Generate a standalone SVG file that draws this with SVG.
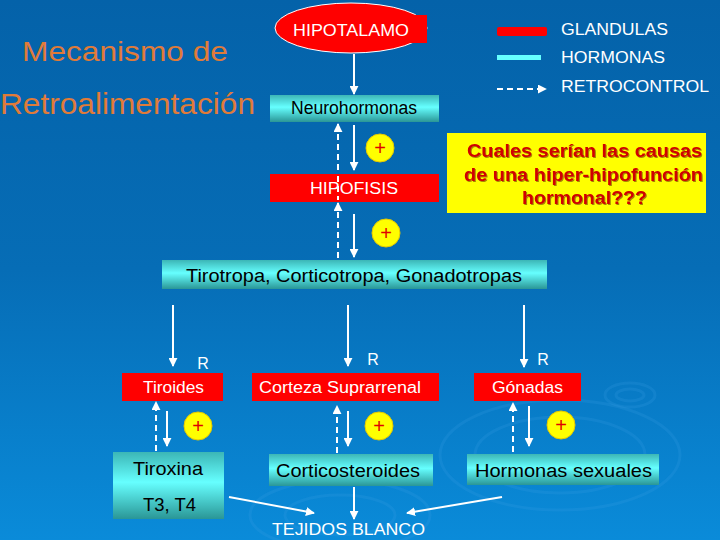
<svg xmlns="http://www.w3.org/2000/svg" width="720" height="540" viewBox="0 0 720 540">
<defs>
<linearGradient id="bg" x1="0" y1="0" x2="0" y2="1">
<stop offset="0" stop-color="#0462a9"/>
<stop offset="0.5" stop-color="#066db6"/>
<stop offset="1" stop-color="#0a8bd9"/>
</linearGradient>
<linearGradient id="cy" x1="0" y1="0" x2="0" y2="1">
<stop offset="0" stop-color="#3cb6b6"/>
<stop offset="0.45" stop-color="#66ffff"/>
<stop offset="1" stop-color="#2a9696"/>
</linearGradient>
<marker id="ah" viewBox="0 0 10 10" refX="9" refY="5" markerWidth="4.5" markerHeight="4.5" orient="auto">
<path d="M0,0 L10,5 L0,10 z" fill="#ffffff"/>
</marker>
<filter id="sh" x="-5%" y="-5%" width="110%" height="120%">
<feDropShadow dx="1" dy="1" stdDeviation="0.4" flood-color="#6a3000" flood-opacity="0.6"/>
</filter>
</defs>
<style>
.lbl{font-family:"Liberation Sans",Arial,sans-serif;}
.w{fill:#ffffff;font-size:16px;}
.k{fill:#000000;font-size:18px;}
.red{fill:#ff0000;}
.cyan{fill:url(#cy);}
.ln{stroke:#ffffff;stroke-width:2;fill:none;marker-end:url(#ah);}
.dash{stroke:#ffffff;stroke-width:2;fill:none;stroke-dasharray:6,4;marker-end:url(#ah);}
.plus circle{fill:#ffff00;stroke:#e6c800;stroke-width:1;}
.plus text{fill:#e00000;font-size:20px;font-family:"Liberation Sans",Arial,sans-serif;text-anchor:middle;}
.rip{fill:none;stroke:#3aa0e8;stroke-opacity:0.2;stroke-width:3;}
</style>
<rect width="720" height="540" fill="url(#bg)"/>
<g id="ripples">
<ellipse class="rip" cx="630" cy="395" rx="25" ry="12"/>
<ellipse class="rip" cx="630" cy="395" rx="14" ry="6"/>
<ellipse class="rip" cx="560" cy="455" rx="120" ry="55"/>
<ellipse class="rip" cx="560" cy="455" rx="85" ry="38"/>
<ellipse class="rip" cx="340" cy="515" rx="90" ry="35"/>
<ellipse class="rip" cx="340" cy="515" rx="55" ry="20"/>
</g>
<g id="title" class="lbl" fill="#e07b39">
<text x="22" y="61" font-size="28" textLength="206" lengthAdjust="spacingAndGlyphs">Mecanismo de</text>
<text x="0" y="114" font-size="30" textLength="255" lengthAdjust="spacingAndGlyphs">Retroalimentación</text>
</g>
<g id="legend" class="lbl">
<rect x="497" y="27" width="50" height="9" rx="2" fill="#ff0000"/>
<rect x="497" y="55" width="44" height="5" fill="#66ffff"/>
<line x1="497" y1="89" x2="546" y2="89" class="dash" stroke-dasharray="4,3"/>
<text x="561" y="35" class="w" textLength="107" lengthAdjust="spacingAndGlyphs">GLANDULAS</text>
<text x="561" y="63" class="w" textLength="104" lengthAdjust="spacingAndGlyphs">HORMONAS</text>
<text x="561" y="92" class="w" textLength="148" lengthAdjust="spacingAndGlyphs">RETROCONTROL</text>
</g>
<g id="connectors">
<line x1="354" y1="54" x2="354" y2="94" class="ln"/>
<line x1="354" y1="125" x2="354" y2="170" class="ln"/>
<line x1="354" y1="214" x2="354" y2="257" class="ln"/>
<line x1="338" y1="200" x2="338" y2="124" class="dash"/>
<line x1="338" y1="258" x2="338" y2="203" class="dash"/>
<line x1="173" y1="305" x2="173" y2="366" class="ln"/>
<line x1="348" y1="305" x2="348" y2="366" class="ln"/>
<line x1="524" y1="305" x2="524" y2="367" class="ln"/>
<line x1="156" y1="451" x2="156" y2="402" class="dash"/>
<line x1="167" y1="411" x2="167" y2="446" class="ln"/>
<line x1="337" y1="453" x2="337" y2="406" class="dash"/>
<line x1="348" y1="411" x2="348" y2="446" class="ln"/>
<line x1="513" y1="452" x2="513" y2="403" class="dash"/>
<line x1="529" y1="406" x2="529" y2="446" class="ln"/>
<line x1="229" y1="497" x2="314" y2="513" class="ln"/>
<line x1="354" y1="487" x2="354" y2="519" class="ln"/>
<line x1="502" y1="497" x2="407" y2="513" class="ln"/>
</g>
<g id="hipotalamo" class="lbl">
<ellipse cx="351" cy="28" rx="76" ry="25" fill="#ff0000" stroke="#ffffff" stroke-width="1"/>
<rect x="404" y="15" width="23" height="28" fill="#ff0000"/>
<text x="293" y="36" class="w" textLength="116" lengthAdjust="spacingAndGlyphs">HIPOTALAMO</text>
</g>
<g id="neurohormonas" class="lbl">
<rect x="270" y="95" width="169" height="27" class="cyan"/>
<text x="291" y="114" class="k" font-size="17" textLength="126" lengthAdjust="spacingAndGlyphs">Neurohormonas</text>
</g>
<g id="hipofisis" class="lbl">
<rect x="270" y="174" width="169" height="28" class="red"/>
<line x1="338" y1="176" x2="338" y2="200" stroke="#ffffff" stroke-width="2" stroke-dasharray="6,4"/>
<text x="310" y="194" class="w" textLength="88" lengthAdjust="spacingAndGlyphs">HIPOFISIS</text>
</g>
<g id="pregunta" class="lbl">
<rect x="447" y="133" width="259" height="80" fill="#ffff00"/>
<g fill="#d00000" font-weight="bold" font-size="18" filter="url(#sh)">
<text x="467" y="157" textLength="235" lengthAdjust="spacingAndGlyphs">Cuales serían las causas</text>
<text x="464" y="181" textLength="239" lengthAdjust="spacingAndGlyphs">de una hiper-hipofunción</text>
<text x="522" y="204" textLength="125" lengthAdjust="spacingAndGlyphs">hormonal???</text>
</g>
</g>
<g id="tropas" class="lbl">
<rect x="162" y="260" width="385" height="29" class="cyan"/>
<text x="186" y="282" class="k" textLength="336" lengthAdjust="spacingAndGlyphs">Tirotropa, Corticotropa, Gonadotropas</text>
</g>
<g id="tiroides" class="lbl">
<text x="203" y="369" class="w" font-size="17" text-anchor="middle">R</text>
<rect x="122" y="373" width="101" height="28" class="red"/>
<text x="143" y="393" class="w" font-size="17" textLength="61" lengthAdjust="spacingAndGlyphs">Tiroides</text>
</g>
<g id="corteza" class="lbl">
<text x="373" y="365" class="w" font-size="17" text-anchor="middle">R</text>
<rect x="252" y="373" width="187" height="28" class="red"/>
<text x="259" y="393" class="w" font-size="17" textLength="162" lengthAdjust="spacingAndGlyphs">Corteza Suprarrenal</text>
</g>
<g id="gonadas" class="lbl">
<text x="543" y="365" class="w" font-size="17" text-anchor="middle">R</text>
<rect x="474" y="373" width="107" height="28" class="red"/>
<text x="492" y="393" class="w" font-size="17" textLength="71" lengthAdjust="spacingAndGlyphs">Gónadas</text>
</g>
<g id="tiroxina" class="lbl">
<rect x="113" y="452" width="111" height="67" class="cyan"/>
<text x="133" y="475" class="k" font-size="19" textLength="70" lengthAdjust="spacingAndGlyphs">Tiroxina</text>
<text x="143" y="511" class="k" font-size="19" textLength="53" lengthAdjust="spacingAndGlyphs">T3, T4</text>
</g>
<g id="corticosteroides" class="lbl">
<rect x="269" y="454" width="164" height="32" class="cyan"/>
<text x="276" y="477" class="k" font-size="19" textLength="144" lengthAdjust="spacingAndGlyphs">Corticosteroides</text>
</g>
<g id="hormonas-sexuales" class="lbl">
<rect x="467" y="454" width="192" height="31" class="cyan"/>
<text x="475" y="477" class="k" font-size="19" textLength="177" lengthAdjust="spacingAndGlyphs">Hormonas sexuales</text>
</g>
<g id="tejidos" class="lbl">
<text x="272" y="535" class="w" font-size="17" textLength="153" lengthAdjust="spacingAndGlyphs">TEJIDOS BLANCO</text>
</g>
<g id="plus-signs">
<g class="plus"><circle cx="380" cy="148" r="14"/><text x="380" y="155">+</text></g>
<g class="plus"><circle cx="386" cy="233" r="14"/><text x="386" y="240">+</text></g>
<g class="plus"><circle cx="198" cy="426" r="14"/><text x="198" y="433">+</text></g>
<g class="plus"><circle cx="379" cy="426" r="14"/><text x="379" y="433">+</text></g>
<g class="plus"><circle cx="561" cy="425" r="14"/><text x="561" y="432">+</text></g>
</g>
</svg>
